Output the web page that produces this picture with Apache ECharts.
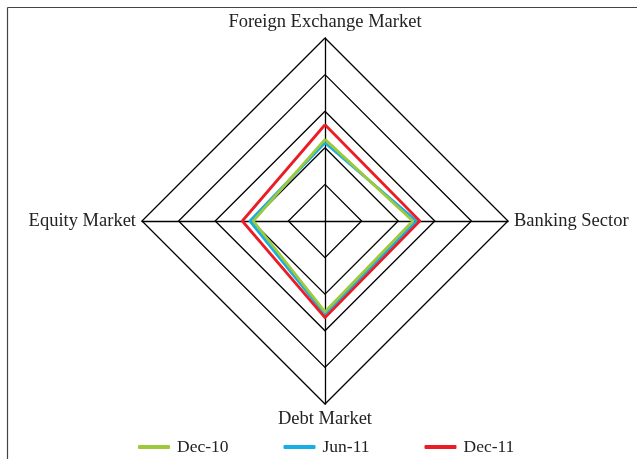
<!DOCTYPE html>
<html>
<head>
<meta charset="utf-8">
<script src="https://cdn.jsdelivr.net/npm/echarts@6/dist/echarts.min.js"></script>
<style>html,body{margin:0;padding:0;background:#fff;}#c{width:637px;height:459px;}</style>
</head>
<body>
<div id="c"></div>
<script>
// Indicators (ECharts places them counter-clockwise starting at top)
var indicators = ['Foreign Exchange Market', 'Equity Market', 'Debt Market', 'Banking Sector'];
var maxValue = 5;
var seriesNames = ['Dec-10', 'Jun-11', 'Dec-11'];
var dec10 = [2.23, 1.96, 2.48, 2.40];
var jun11 = [2.14, 2.05, 2.55, 2.50];
var dec11 = [2.63, 2.26, 2.64, 2.59];
var colors = {'Dec-10': '#9dc93b', 'Jun-11': '#17aee6', 'Dec-11': '#ec1c24'};

var dataByName = {'Dec-10': dec10, 'Jun-11': jun11, 'Dec-11': dec11};
var drawOrder = ['Jun-11', 'Dec-10', 'Dec-11'];
var font = '"Liberation Serif", "DejaVu Serif", serif';

var chart = echarts.init(document.getElementById('c'), null, {renderer: 'canvas'});
chart.setOption({
  animation: false,
  backgroundColor: '#fff',
  graphic: [
    {type: 'line', shape: {x1: 7.5, y1: 7.5, x2: 637, y2: 7.5}, style: {stroke: '#444', lineWidth: 1.2}},
    {type: 'line', shape: {x1: 7.5, y1: 7.5, x2: 7.5, y2: 459}, style: {stroke: '#444', lineWidth: 1.2}}
  ],
  legend: {
    data: seriesNames,
    left: 133,
    top: 433,
    itemWidth: 32,
    itemHeight: 4,
    itemGap: 55,
    icon: 'roundRect',
    textStyle: {fontFamily: font, fontSize: 17.5, color: '#222', padding: [0, 0, 0, 2]},
    selectedMode: false
  },
  radar: {
    center: [325, 221],
    radius: 183,
    startAngle: 90,
    shape: 'polygon',
    splitNumber: 5,
    indicator: indicators.map(function (n) { return {name: n, max: maxValue, min: 0}; }),
    axisName: {color: '#222', fontFamily: font, fontSize: 18.5},
    nameGap: 6,
    axisLine: {lineStyle: {color: '#000', width: 1.3}},
    splitLine: {lineStyle: {color: '#000', width: 1.3}},
    splitArea: {show: false},
    axisTick: {show: false},
    axisLabel: {show: false}
  },
  series: drawOrder.map(function (name) {
    return {
      type: 'radar',
      name: name,
      symbol: 'none',
      lineStyle: {color: colors[name], width: 2.8},
      itemStyle: {color: colors[name]},
      data: [{name: name, value: dataByName[name]}]
    };
  })
});
</script>
</body>
</html>
